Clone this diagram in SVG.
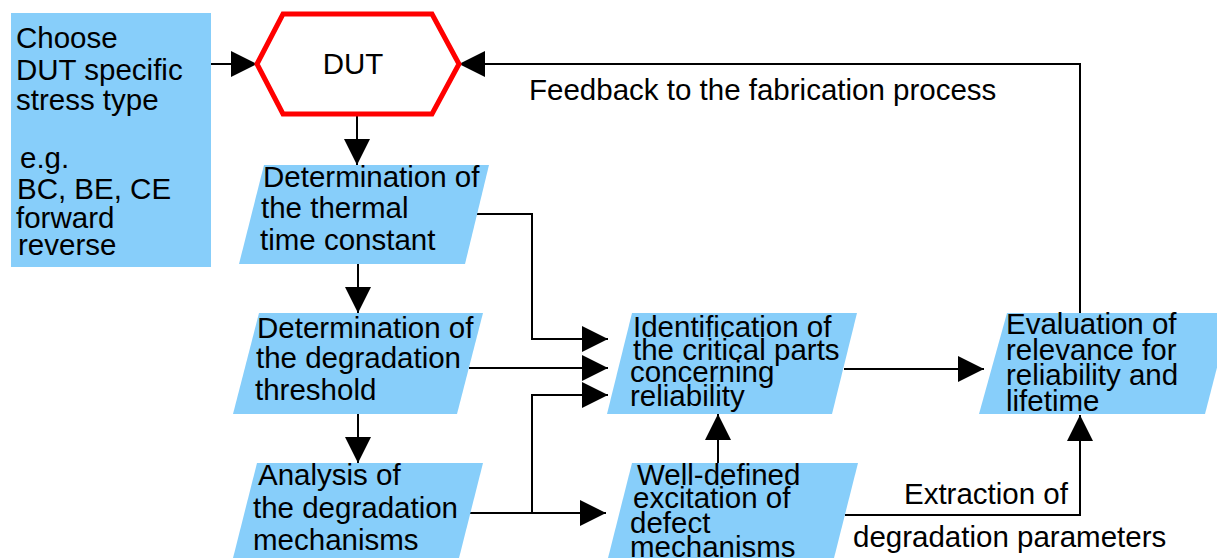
<svg xmlns="http://www.w3.org/2000/svg" width="1217" height="558" viewBox="0 0 1217 558">
<style>
.box{fill:#87CEFA;stroke:none}
.t{font-family:"Liberation Sans",Arial,sans-serif;font-size:29.5px;fill:#000}
.c{fill:none;stroke:#000;stroke-width:2}
</style>
<defs>
<marker id="ah" viewBox="0 0 26 26" markerWidth="26" markerHeight="26" refX="26" refY="13" orient="auto" markerUnits="userSpaceOnUse">
<path d="M0,0 L26,13 L0,26 Z" fill="#000"/>
</marker>
</defs>
<rect width="1217" height="558" fill="#fff"/>
<g id="connectors">
<path class="c" d="M211,64 H257" marker-end="url(#ah)"/>
<path class="c" d="M357,114 V165" marker-end="url(#ah)"/>
<path class="c" d="M358,264 V313" marker-end="url(#ah)"/>
<path class="c" d="M358,414 V463" marker-end="url(#ah)"/>
<path class="c" d="M477,214 H532 V339 H608" marker-end="url(#ah)"/>
<path class="c" d="M469,368 H608" marker-end="url(#ah)"/>
<path class="c" d="M470,513 H606" marker-end="url(#ah)"/>
<path class="c" d="M532,513 V395 H608" marker-end="url(#ah)"/>
<path class="c" d="M718,463 V414" marker-end="url(#ah)"/>
<path class="c" d="M844,369 H984" marker-end="url(#ah)"/>
<path class="c" d="M845,515 H1080 V415" marker-end="url(#ah)"/>
<path class="c" d="M1080,313 V64 H459" marker-end="url(#ah)"/>
<text class="t" x="529" y="100">Feedback to the fabrication process</text>
<text class="t" x="904" y="504">Extraction of</text>
<text class="t" x="853" y="547">degradation parameters</text>
</g>
<g id="stress">
<rect class="box" x="11" y="13" width="200" height="254"/>
<text class="t" x="16" y="48">Choose</text>
<text class="t" x="16" y="80">DUT specific</text>
<text class="t" x="16" y="110">stress type</text>
<text class="t" x="20" y="168">e.g.</text>
<text class="t" x="17" y="199">BC, BE, CE</text>
<text class="t" x="16" y="228">forward</text>
<text class="t" x="18" y="255">reverse</text>
</g>
<g id="dut">
<polygon points="257,64 283,14 432,14 459,64 432,114 283,114" fill="#fff" stroke="#f00" stroke-width="5"/>
<text class="t" x="353" y="74" text-anchor="middle">DUT</text>
</g>
<g id="thermal">
<polygon class="box" points="264,165 489,165 465,264 239,264"/>
<text class="t" x="263" y="187">Determination of</text>
<text class="t" x="261" y="218">the thermal</text>
<text class="t" x="260" y="250">time constant</text>
</g>
<g id="threshold">
<polygon class="box" points="259,313 483,313 457,414 233,414"/>
<text class="t" x="257" y="338">Determination of</text>
<text class="t" x="256" y="368">the degradation</text>
<text class="t" x="255" y="400">threshold</text>
</g>
<g id="analysis">
<polygon class="box" points="257,463 483,463 456,570 230,570"/>
<text class="t" x="258" y="485">Analysis of</text>
<text class="t" x="253" y="518">the degradation</text>
<text class="t" x="253" y="550">mechanisms</text>
</g>
<g id="identification">
<polygon class="box" points="632,313 857,313 832,414 607,414"/>
<text class="t" x="633" y="337">Identification of</text>
<text class="t" x="633" y="360">the critical parts</text>
<text class="t" x="630" y="382">concerning</text>
<text class="t" x="630" y="406">reliability</text>
</g>
<g id="excitation">
<polygon class="box" points="632,463 858,463 831,570 605,570"/>
<text class="t" x="637" y="485">Well-defined</text>
<text class="t" x="633" y="508">excitation of</text>
<text class="t" x="630" y="533">defect</text>
<text class="t" x="630" y="557">mechanisms</text>
</g>
<g id="evaluation">
<polygon class="box" points="1007,313 1231,313 1205,414 979,414"/>
<text class="t" x="1006" y="334">Evaluation of</text>
<text class="t" x="1006" y="360">relevance for</text>
<text class="t" x="1006" y="385">reliability and</text>
<text class="t" x="1006" y="411">lifetime</text>
</g>
</svg>
